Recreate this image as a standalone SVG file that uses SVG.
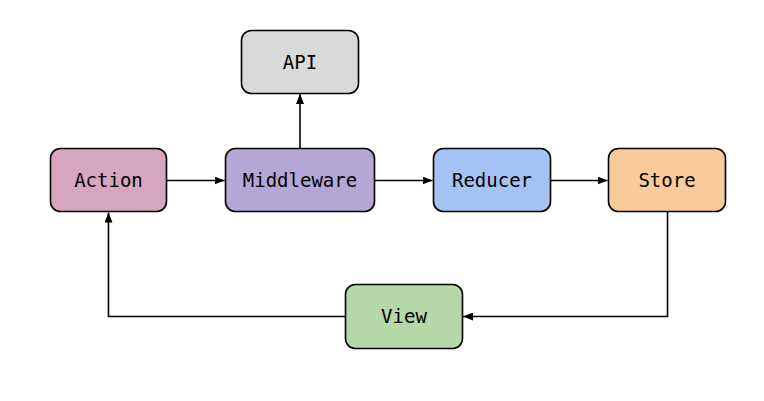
<svg xmlns="http://www.w3.org/2000/svg" width="764" height="401" viewBox="0 0 764 401">
<defs>
<marker id="arr" markerWidth="10" markerHeight="8" refX="10" refY="4" orient="auto" markerUnits="userSpaceOnUse">
<path d="M0,0 L10,4 L0,8 Z" fill="#000"/>
</marker>
<style>
.box{stroke:#000;stroke-width:1.6}
.lbl{font-family:"DejaVu Sans Mono",monospace;font-size:19px;fill:#000;text-anchor:middle}
.edge{fill:none;stroke:#000;stroke-width:1.6;marker-end:url(#arr)}
</style>
</defs>
<rect width="764" height="401" fill="#fff"/>
<g id="connectors">
<path class="edge" d="M166,180.5 H224.5"/>
<path class="edge" d="M375,180.5 H432.5"/>
<path class="edge" d="M550.5,180.5 H607.5"/>
<path class="edge" d="M300,148 V94"/>
<path class="edge" d="M667.5,212 V316.5 H463"/>
<path class="edge" d="M345,316.5 H108.5 V212.5"/>
</g>
<g id="node-api"><rect class="box" x="241.5" y="30.5" width="117" height="63" rx="10" fill="#d9d9d9"/><text class="lbl" x="300" y="68.5">API</text></g>
<g id="node-action"><rect class="box" x="50.5" y="148.5" width="116" height="63" rx="10" fill="#d5a6bd"/><text class="lbl" x="108.5" y="186.5">Action</text></g>
<g id="node-middleware"><rect class="box" x="225.5" y="148.5" width="149" height="63" rx="10" fill="#b4a7d6"/><text class="lbl" x="300" y="186.5">Middleware</text></g>
<g id="node-reducer"><rect class="box" x="433.5" y="148.5" width="117" height="63" rx="10" fill="#a4c2f4"/><text class="lbl" x="492" y="186.5">Reducer</text></g>
<g id="node-store"><rect class="box" x="608.5" y="148.5" width="117" height="63" rx="10" fill="#f9cb9c"/><text class="lbl" x="667" y="186.5">Store</text></g>
<g id="node-view"><rect class="box" x="345.5" y="284.5" width="117" height="64" rx="10" fill="#b6d7a8"/><text class="lbl" x="404" y="323">View</text></g>
</svg>
